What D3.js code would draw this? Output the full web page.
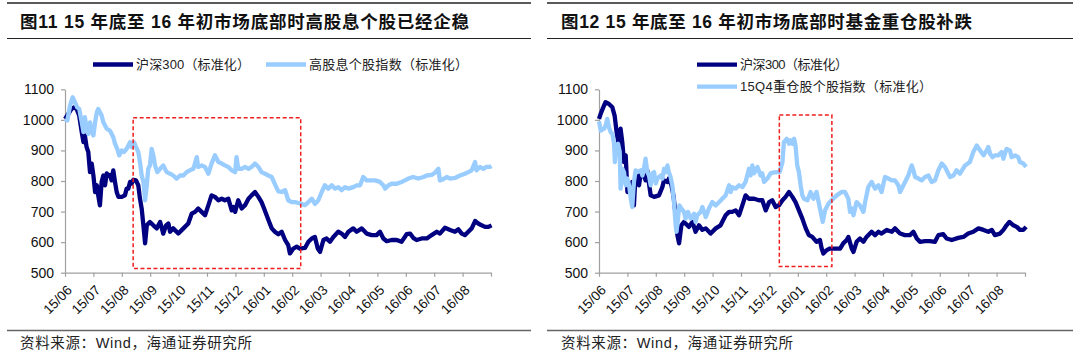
<!DOCTYPE html>
<html><head><meta charset="utf-8">
<script src="https://cdn.jsdelivr.net/npm/d3@7/dist/d3.min.js"></script>
<style>body{margin:0;background:#fff}svg{display:block}</style>
</head><body><svg id="c" width="1080" height="360"></svg>
<script>
// ---------- DATA ----------
const monthLabels = ["15/06","15/07","15/08","15/09","15/10","15/11","15/12","16/01","16/02","16/03","16/04","16/05","16/06","16/07","16/08"];
const yTicks = [500,600,700,800,900,1000,1100];
const titleA = "图11 15 年底至 16 年初市场底部时高股息个股已经企稳";
const titleB = "图12 15 年底至 16 年初市场底部时基金重仓股补跌";
const seriesNamesA = ["沪深300（标准化）","高股息个股指数（标准化）"];
const seriesNamesB = ["沪深300（标准化）","15Q4重仓股个股指数（标准化）"];
const sourceText = "资料来源：Wind，海通证券研究所";
// highlighted window: [month from, month to, value low, value high]
const boxA = [2.40, 8.30, 514, 1007];
const boxB = [6.35, 8.20, 520, 1016];
// [month offset from 2015-06, normalised value]
const hs300A = [[0,1003],[0.12,1020],[0.23,1036],[0.32,1041],[0.41,1036],[0.50,1014],[0.59,960],[0.65,927],[0.70,949],[0.76,911],[0.82,895],[0.88,829],[0.94,857],[1.00,818],[1.06,764],[1.12,786],[1.17,753],[1.23,720],[1.29,797],[1.35,818],[1.41,786],[1.47,825],[1.53,818],[1.58,820],[1.64,802],[1.70,835],[1.76,797],[1.82,764],[1.88,748],[2.00,748],[2.11,753],[2.17,775],[2.23,775],[2.29,797],[2.35,792],[2.41,804],[2.50,802],[2.58,786],[2.64,742],[2.70,710],[2.76,655],[2.82,596],[2.88,655],[2.99,666],[3.11,655],[3.23,645],[3.35,666],[3.46,628],[3.56,655],[3.64,661],[3.70,634],[3.81,645],[3.99,628],[4.17,645],[4.34,661],[4.46,693],[4.58,699],[4.69,710],[4.81,699],[4.93,688],[5.05,721],[5.16,753],[5.28,748],[5.40,737],[5.52,742],[5.63,737],[5.75,742],[5.87,704],[5.93,715],[5.99,699],[6.10,737],[6.22,710],[6.34,721],[6.46,742],[6.57,753],[6.69,764],[6.81,748],[6.92,731],[7.01,710],[7.10,688],[7.19,666],[7.28,645],[7.39,634],[7.51,626],[7.63,634],[7.75,607],[7.86,590],[7.92,563],[8.04,579],[8.16,585],[8.27,579],[8.45,581],[8.57,601],[8.69,612],[8.80,617],[8.90,579],[8.98,568],[9.10,607],[9.21,612],[9.33,601],[9.45,617],[9.62,634],[9.74,628],[9.86,617],[9.98,634],[10.15,645],[10.27,634],[10.45,645],[10.62,628],[10.80,623],[10.97,623],[11.09,634],[11.21,612],[11.33,603],[11.50,607],[11.68,607],[11.85,601],[12.03,626],[12.15,628],[12.26,614],[12.38,607],[12.56,612],[12.74,612],[12.91,623],[13.09,634],[13.20,628],[13.38,647],[13.56,640],[13.73,634],[13.85,642],[13.97,628],[14.08,623],[14.20,634],[14.32,645],[14.44,669],[14.55,661],[14.67,655],[14.79,650],[14.91,650],[15.02,655]];
const dividendA = [[0,1003],[0.08,998],[0.18,1047],[0.27,1074],[0.35,1058],[0.43,1041],[0.50,1036],[0.59,992],[0.65,960],[0.70,1009],[0.76,971],[0.82,954],[0.88,992],[0.94,960],[1.00,949],[1.06,992],[1.12,1025],[1.17,1036],[1.23,1025],[1.29,1014],[1.35,992],[1.47,971],[1.58,965],[1.70,943],[1.76,922],[1.84,905],[1.91,884],[2.00,900],[2.08,895],[2.17,905],[2.29,927],[2.35,911],[2.43,927],[2.50,911],[2.58,895],[2.64,862],[2.70,818],[2.76,797],[2.82,737],[2.88,786],[2.93,840],[2.99,851],[3.05,905],[3.11,884],[3.17,851],[3.25,829],[3.35,840],[3.46,851],[3.58,829],[3.70,824],[3.81,818],[3.93,808],[4.05,818],[4.17,818],[4.28,829],[4.40,835],[4.52,840],[4.64,878],[4.69,846],[4.81,851],[4.93,846],[5.05,824],[5.16,857],[5.28,884],[5.40,862],[5.52,857],[5.63,851],[5.75,846],[5.87,835],[5.99,829],[6.04,878],[6.10,840],[6.22,840],[6.34,846],[6.46,840],[6.57,846],[6.69,857],[6.81,846],[6.92,829],[7.04,824],[7.16,818],[7.28,813],[7.39,790],[7.51,766],[7.63,764],[7.75,770],[7.86,737],[7.98,731],[8.10,731],[8.22,728],[8.33,725],[8.45,721],[8.57,731],[8.69,742],[8.80,725],[8.92,737],[9.04,764],[9.15,786],[9.27,775],[9.39,786],[9.51,775],[9.62,780],[9.74,770],[9.86,780],[9.98,775],[10.15,780],[10.27,786],[10.39,786],[10.50,813],[10.62,802],[10.74,802],[10.92,802],[11.09,797],[11.21,786],[11.27,775],[11.39,786],[11.50,791],[11.68,791],[11.85,797],[11.97,802],[12.09,808],[12.26,813],[12.44,808],[12.62,813],[12.74,818],[12.91,820],[13.03,827],[13.15,840],[13.20,802],[13.32,806],[13.44,813],[13.56,808],[13.73,810],[13.91,818],[14.08,824],[14.20,829],[14.32,835],[14.44,862],[14.49,835],[14.61,846],[14.73,840],[14.84,846],[14.96,846],[15.02,849]];
const hs300B = [[0,1003],[0.06,1020],[0.15,1041],[0.23,1058],[0.35,1052],[0.47,1041],[0.55,1014],[0.62,960],[0.70,916],[0.76,971],[0.82,927],[0.88,862],[0.94,884],[1.00,764],[1.06,786],[1.12,764],[1.17,797],[1.23,720],[1.29,824],[1.35,818],[1.41,786],[1.47,825],[1.58,818],[1.64,802],[1.70,835],[1.76,792],[1.82,753],[1.94,748],[2.11,753],[2.23,780],[2.29,802],[2.41,797],[2.46,808],[2.55,786],[2.62,753],[2.70,688],[2.76,623],[2.82,596],[2.90,655],[2.99,666],[3.17,650],[3.29,666],[3.40,634],[3.52,655],[3.64,640],[3.76,645],[3.93,628],[4.11,645],[4.28,655],[4.46,688],[4.58,699],[4.69,699],[4.81,704],[4.93,688],[5.05,721],[5.16,753],[5.28,742],[5.46,742],[5.63,737],[5.75,737],[5.87,704],[5.99,731],[6.10,737],[6.22,715],[6.34,721],[6.46,737],[6.57,748],[6.69,764],[6.81,748],[6.92,731],[7.04,704],[7.16,677],[7.28,645],[7.39,623],[7.51,617],[7.66,601],[7.78,607],[7.84,579],[7.90,563],[8.02,574],[8.13,579],[8.31,579],[8.49,579],[8.60,596],[8.72,607],[8.78,617],[8.90,579],[8.96,568],[9.07,601],[9.19,612],[9.31,601],[9.42,617],[9.60,634],[9.72,623],[9.84,634],[9.95,628],[10.13,640],[10.31,634],[10.42,645],[10.60,628],[10.77,623],[10.95,623],[11.07,634],[11.19,612],[11.30,601],[11.48,603],[11.65,603],[11.83,601],[11.95,623],[12.12,626],[12.24,612],[12.42,607],[12.65,614],[12.83,617],[13.00,628],[13.18,634],[13.36,645],[13.54,640],[13.71,634],[13.83,640],[13.94,623],[14.12,628],[14.24,640],[14.35,655],[14.45,666],[14.59,655],[14.71,650],[14.82,640],[14.94,640],[15.04,650]];
const heavyB = [[0,995],[0.06,965],[0.18,971],[0.23,981],[0.29,1003],[0.35,976],[0.41,960],[0.47,954],[0.53,922],[0.56,862],[0.61,916],[0.67,922],[0.73,895],[0.76,775],[0.82,840],[0.88,829],[0.94,786],[1.00,808],[1.06,786],[1.12,742],[1.17,715],[1.23,797],[1.29,835],[1.35,829],[1.47,835],[1.53,818],[1.58,840],[1.64,873],[1.70,829],[1.76,818],[1.82,786],[1.88,825],[1.94,829],[2.00,792],[2.05,808],[2.17,818],[2.23,808],[2.29,840],[2.35,829],[2.41,851],[2.46,829],[2.52,813],[2.58,786],[2.64,731],[2.70,655],[2.73,634],[2.78,677],[2.83,720],[2.90,710],[2.99,699],[3.05,677],[3.13,699],[3.23,677],[3.35,693],[3.40,666],[3.46,688],[3.58,699],[3.64,715],[3.76,682],[3.87,710],[3.99,731],[4.11,720],[4.23,731],[4.34,742],[4.46,753],[4.58,786],[4.64,764],[4.69,780],[4.81,775],[4.93,786],[5.05,780],[5.16,797],[5.28,840],[5.34,818],[5.40,851],[5.46,825],[5.58,846],[5.69,818],[5.75,825],[5.81,797],[5.93,808],[6.04,825],[6.16,828],[6.28,829],[6.36,829],[6.46,862],[6.51,927],[6.61,938],[6.69,922],[6.75,933],[6.81,922],[6.87,938],[6.92,916],[6.98,851],[7.04,829],[7.10,786],[7.16,753],[7.22,742],[7.34,737],[7.45,764],[7.55,742],[7.66,764],[7.78,710],[7.88,666],[7.96,704],[8.08,726],[8.19,737],[8.37,753],[8.54,764],[8.66,764],[8.78,742],[8.84,699],[8.90,710],[8.96,688],[9.07,731],[9.19,720],[9.31,699],[9.37,731],[9.48,780],[9.60,797],[9.72,775],[9.84,786],[9.95,764],[10.07,813],[10.19,808],[10.31,802],[10.42,802],[10.54,786],[10.60,764],[10.72,786],[10.89,818],[11.01,851],[11.07,835],[11.13,813],[11.25,808],[11.36,802],[11.48,813],[11.60,818],[11.71,797],[11.83,802],[11.95,835],[12.07,857],[12.18,846],[12.36,813],[12.48,818],[12.59,835],[12.71,824],[12.89,851],[13.06,862],[13.18,895],[13.30,916],[13.42,900],[13.54,884],[13.65,900],[13.71,911],[13.77,889],[13.86,878],[13.94,884],[14.06,884],[14.18,895],[14.24,873],[14.35,905],[14.47,900],[14.53,878],[14.65,884],[14.76,878],[14.82,862],[14.94,857],[15.04,846]];

// ---------- DRAW ----------
const svg = d3.select("#c");
const DARK = "#000080", LIGHT = "#99CCFF", AXIS = "#A0A0A0";
const CJK = "'Liberation Sans','Noto Sans CJK SC',sans-serif";

function panel(o){
  const g = svg.append("g");
  g.append("line").attr("x1",o.r0).attr("x2",o.r1).attr("y1",3).attr("y2",3).attr("stroke","#222").attr("stroke-width",1.6);
  g.append("line").attr("x1",o.r0).attr("x2",o.r1).attr("y1",38.5).attr("y2",38.5).attr("stroke","#222").attr("stroke-width",1.2);
  g.append("text").attr("x",o.tx).attr("y",27.5).attr("font-family",CJK).attr("font-weight","bold")
    .attr("font-size",17.5).attr("fill","#111").attr("textLength",o.tw).attr("lengthAdjust","spacing").text(o.title);

  const x = d3.scaleLinear().domain([0,15]).range([o.x0,o.x1]);
  const y = d3.scaleLinear().domain([500,1100]).range([272.7,89.3]);

  const ya = g.append("g").attr("transform",`translate(${o.x0},0)`)
    .call(d3.axisLeft(y).tickValues(yTicks).tickFormat(d3.format("d")).tickSize(4).tickSizeOuter(0).tickPadding(7));
  ya.selectAll("path,line").attr("stroke",AXIS).attr("stroke-width",1.2);
  ya.selectAll("text").attr("font-family","'Liberation Sans',Arial,sans-serif").attr("font-size",14).attr("fill","#111");

  const xa = g.append("g").attr("transform",`translate(0,272.7)`)
    .call(d3.axisBottom(x).tickValues(d3.range(16)).tickSize(4).tickSizeOuter(0).tickFormat(i=>monthLabels[i]||""));
  xa.selectAll("path,line").attr("stroke",AXIS).attr("stroke-width",1.2);
  xa.selectAll("text").attr("font-family","'Liberation Sans',Arial,sans-serif").attr("font-size",13.5).attr("fill","#111")
    .attr("x",0).attr("y",0).attr("dy","0.35em").attr("text-anchor","end")
    .attr("transform","translate(4,15) rotate(-45)");

  const line = d3.line().x(d=>x(d[0])).y(d=>y(d[1]));
  o.series.forEach((s,i)=>{
    g.append("path").datum(s).attr("d",line).attr("fill","none")
      .attr("stroke",i===0?DARK:LIGHT).attr("stroke-width",4.3).attr("stroke-linejoin","round");
  });

  const b = o.box;
  g.append("rect").attr("x",x(b[0])).attr("y",y(b[3])).attr("width",x(b[1])-x(b[0])).attr("height",y(b[2])-y(b[3]))
    .attr("fill","none").attr("stroke","#F01E1E").attr("stroke-width",1.5).attr("stroke-dasharray","4,2.5");

  o.legend.forEach((L,i)=>{
    g.append("line").attr("x1",L.x).attr("x2",L.x+40).attr("y1",L.y).attr("y2",L.y)
      .attr("stroke",i===0?DARK:LIGHT).attr("stroke-width",4.3);
    g.append("text").attr("x",L.x+43).attr("y",L.y+4.5).attr("font-family",CJK).attr("font-size",13)
      .attr("fill","#222").attr("textLength",L.w).attr("lengthAdjust","spacing").text(o.names[i]);
  });

  g.append("line").attr("x1",o.r0).attr("x2",o.r1).attr("y1",330.5).attr("y2",330.5).attr("stroke","#666").attr("stroke-width",1.4);
  g.append("text").attr("x",o.tx).attr("y",348).attr("font-family",CJK).attr("font-size",14.5).attr("fill","#222")
    .attr("textLength",232).attr("lengthAdjust","spacing").text(sourceText);
}

panel({r0:7,r1:531,tx:20,tw:449,title:titleA,x0:65,x1:491,series:[hs300A,dividendA],box:boxA,
  names:seriesNamesA,legend:[{x:93,y:64.5,w:114},{x:266,y:64.5,w:159}]});
panel({r0:547,r1:1073,tx:561,tw:411,title:titleB,x0:599,x1:1025,series:[hs300B,heavyB],box:boxB,
  names:seriesNamesB,legend:[{x:697,y:64.7,w:108},{x:697,y:86.7,w:192}]});
</script></body></html>
